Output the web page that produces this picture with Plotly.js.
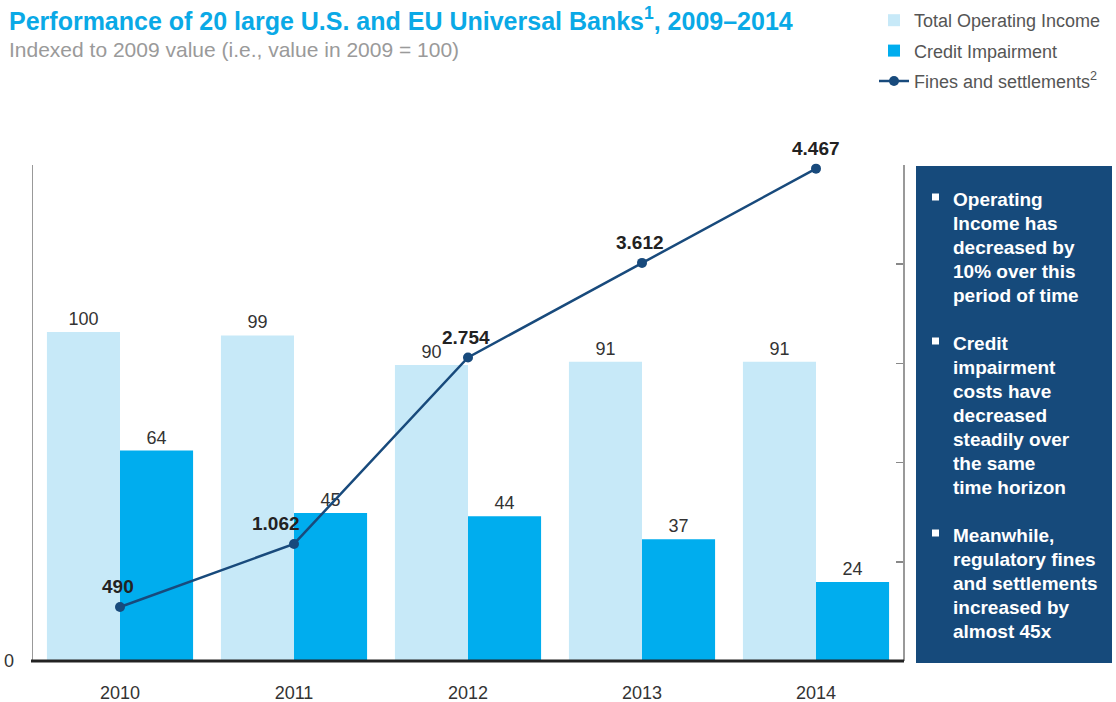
<!DOCTYPE html>
<html>
<head>
<meta charset="utf-8">
<script src="https://cdn.plot.ly/plotly-3.0.1.min.js"></script>
<style>html,body{margin:0;padding:0;background:#fff;}#chart{width:1116px;height:702px;}</style>
</head>
<body>
<div id="chart"></div>
<script>
const years = ['2010', '2011', '2012', '2013', '2014'];
const operatingIncome = [100, 99, 90, 91, 91];
const creditImpairment = [64, 45, 44, 37, 24];
const finesSettlements = [490, 1062, 2754, 3612, 4467];
const fineLabelXShift = [-2, -18, -2, -2, 0];
const boxLines = [
  'Operating', 'Income has', 'decreased by', '10% over this', 'period of time', '',
  'Credit', 'impairment', 'costs have', 'decreased', 'steadily over', 'the same', 'time horizon', '',
  'Meanwhile,', 'regulatory fines', 'and settlements', 'increased by', 'almost 45x'
];
const bulletLines = [0, 6, 14];

const FONT = 'Liberation Sans, Arial, sans-serif';
const W = 1116, H = 702;
const L = 33, R = 903, T = 165, B = 661;
const pw = R - L, ph = B - T;
const px = x => (x - L) / pw;
const py = y => (B - y) / ph;

const fmt = v => String(v).replace(/\B(?=(\d{3})+(?!\d))/g, '.');

const traces = [
  {
    type: 'bar', name: 'Total Operating Income', x: years, y: operatingIncome, legendgroup: 'g1',
    marker: {color: '#c7e9f8'}, text: operatingIncome.map(String), textposition: 'outside',
    textfont: {family: FONT, size: 18, color: '#333'},
    cliponaxis: false, hoverinfo: 'none'
  },
  {
    type: 'bar', name: 'Credit Impairment', x: years, y: creditImpairment, legendgroup: 'g2',
    marker: {color: '#00adee'}, text: creditImpairment.map(String), textposition: 'outside',
    textfont: {family: FONT, size: 18, color: '#333'},
    cliponaxis: false, hoverinfo: 'none'
  },
  {
    type: 'scatter', mode: 'lines+markers', name: 'Fines and settlements<sup>2</sup>', legendgroup: 'g3',
    x: years, y: finesSettlements, yaxis: 'y2',
    line: {color: '#184a7c', width: 2.5}, marker: {color: '#184a7c', size: 10},
    cliponaxis: false, hoverinfo: 'none'
  }
];

const annotations = [
  {xref: 'paper', yref: 'paper', x: px(7), y: py(19), xanchor: 'left', yanchor: 'middle', showarrow: false,
   text: '<b>Performance of 20 large U.S. and EU Universal Banks<sup>1</sup>, 2009–2014</b>',
   font: {family: FONT, size: 25, color: '#0aa9e6'}},
  {xref: 'paper', yref: 'paper', x: px(7), y: py(49), xanchor: 'left', yanchor: 'middle', showarrow: false,
   text: 'Indexed to 2009 value (i.e., value in 2009 = 100)',
   font: {family: FONT, size: 21, color: '#9a9a9a'}}
];
years.forEach((yr, i) => {
  annotations.push({x: i, y: finesSettlements[i], xref: 'x', yref: 'y2', showarrow: false,
    text: '<b>' + fmt(finesSettlements[i]) + '</b>', xanchor: 'center', yanchor: 'middle',
    xshift: fineLabelXShift[i], yshift: 20,
    font: {family: FONT, size: 19, color: '#222'}});
});
boxLines.forEach((t, k) => {
  if (!t) return;
  annotations.push({xref: 'paper', yref: 'paper', x: px(951), y: py(199 + 24 * k), xanchor: 'left', yanchor: 'middle',
    showarrow: false, text: '<b>' + t + '</b>',
    font: {family: FONT, size: 19, color: '#ffffff'}});
});

const shapes = [
  {type: 'rect', xref: 'paper', yref: 'paper', x0: px(916), x1: px(1112), y0: py(663), y1: py(166),
   fillcolor: '#164a7b', line: {width: 0}, layer: 'below'}
];
bulletLines.forEach(k => {
  const yc = 199 + 24 * k - 2;
  shapes.push({type: 'rect', xref: 'paper', yref: 'paper', x0: px(932), x1: px(939), y0: py(yc + 3.5), y1: py(yc - 3.5),
    fillcolor: '#ffffff', line: {width: 0}});
});
shapes.push({type: 'line', xref: 'paper', yref: 'paper', x0: px(31), x1: px(904), y0: 0, y1: 0,
  line: {color: '#222', width: 3}});

const layout = {
  width: W, height: H,
  margin: {l: L, r: W - R, t: T, b: H - B, pad: 0, autoexpand: false},
  paper_bgcolor: '#fff', plot_bgcolor: '#fff',
  barmode: 'group', bargap: 0.16, bargroupgap: 0,
  showlegend: true,
  legend: {x: px(874), y: py(2), xanchor: 'left', yanchor: 'top', traceorder: 'grouped',
    font: {family: FONT, size: 18, color: '#555'},
    tracegroupgap: 4, itemwidth: 30, bgcolor: 'rgba(0,0,0,0)'},
  xaxis: {type: 'category', range: [-0.5, 4.5], showgrid: false, zeroline: false, showline: false,
    ticks: '', ticklabelstandoff: 19, automargin: false,
    tickfont: {family: FONT, size: 18, color: '#333'}, fixedrange: true},
  yaxis: {range: [0, 150.8], showgrid: false, zeroline: false, showline: true, linecolor: '#999', linewidth: 1.5,
    tickvals: [0], ticktext: ['0'], ticks: '', ticklabelstandoff: 14, automargin: false,
    tickfont: {family: FONT, size: 18, color: '#333'}, fixedrange: true},
  yaxis2: {overlaying: 'y', side: 'right', range: [0, 4500], showgrid: false, zeroline: false,
    showline: true, linecolor: '#999', linewidth: 1.5, tickvals: [0, 900, 1800, 2700, 3600, 4500],
    ticks: 'inside', ticklen: 7, tickwidth: 1.5, tickcolor: '#888', showticklabels: false, fixedrange: true},
  annotations: annotations,
  shapes: shapes
};

Plotly.newPlot('chart', traces, layout, {displayModeBar: false, staticPlot: true});
</script>
</body>
</html>
